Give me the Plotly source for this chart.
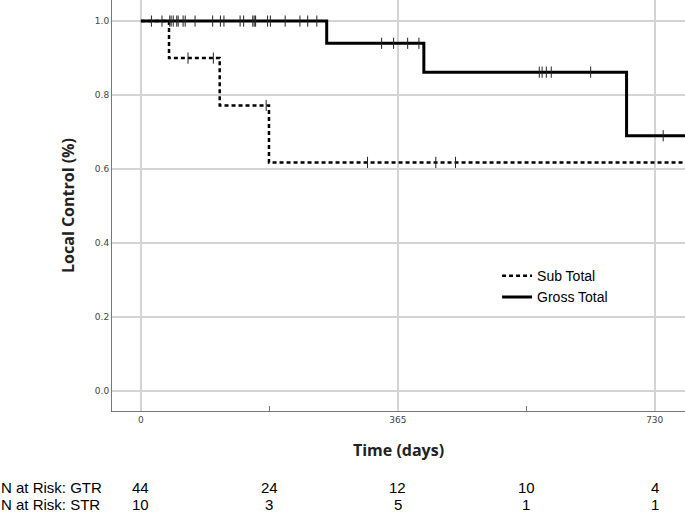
import plotly.graph_objects as go

# Kaplan-Meier step data (days, local control)
gtr_times = [0, 264, 402, 690, 780]
gtr_surv = [1.0, 0.94, 0.862, 0.69, 0.69]
str_times = [0, 40, 112, 182, 780]
str_surv = [1.0, 0.9, 0.772, 0.618, 0.618]

# censored observations
gtr_cens_t = [15, 30, 41, 43, 46, 51, 53, 60, 63, 77, 102, 113, 118, 141, 146, 159, 161, 163,
              180, 184, 205, 226, 237, 250, 342, 359, 379, 395, 566, 570, 576, 583, 639, 742]
gtr_cens_s = [1.0] * 24 + [0.94] * 4 + [0.862] * 5 + [0.69]
str_cens_t = [67, 103, 178, 322, 419, 447]
str_cens_s = [0.9, 0.9, 0.772, 0.618, 0.618, 0.618]

# numbers at risk
risk_times = [0, 182.5, 365, 547.5, 730]
risk_gtr = [44, 24, 12, 10, 4]
risk_str = [10, 3, 5, 1, 1]

x_ticks = [0, 365, 730]
y_ticks = [0.0, 0.2, 0.4, 0.6, 0.8, 1.0]

fig = go.Figure()
fig.add_trace(go.Scatter(x=str_times, y=str_surv, mode="lines", line_shape="hv",
                         line=dict(color="black", width=2.5, dash="4px,3px"), name="Sub Total"))
fig.add_trace(go.Scatter(x=gtr_times, y=gtr_surv, mode="lines", line_shape="hv",
                         line=dict(color="black", width=3), name="Gross Total"))
fig.add_trace(go.Scatter(x=str_cens_t, y=str_cens_s, mode="markers", showlegend=False,
                         marker=dict(symbol="line-ns", size=8, line=dict(color="#222", width=1))))
fig.add_trace(go.Scatter(x=gtr_cens_t, y=gtr_cens_s, mode="markers", showlegend=False,
                         marker=dict(symbol="line-ns", size=8, line=dict(color="#222", width=1))))

risk_font = dict(family="Liberation Sans", size=15, color="black")
for i, t in enumerate(risk_times):
    fig.add_annotation(x=t, y=0, xref="x", yref="paper", yshift=-87, text=str(risk_gtr[i]),
                       showarrow=False, font=risk_font)
    fig.add_annotation(x=t, y=0, xref="x", yref="paper", yshift=-104, text=str(risk_str[i]),
                       showarrow=False, font=risk_font)
fig.add_annotation(x=0, y=0, xref="paper", yref="paper", xshift=-113, yshift=-87, xanchor="left",
                   text="N at Risk: GTR", showarrow=False, font=risk_font)
fig.add_annotation(x=0, y=0, xref="paper", yref="paper", xshift=-113, yshift=-104, xanchor="left",
                   text="N at Risk: STR", showarrow=False, font=risk_font)

title_font = dict(family="Open Sans", size=16, color="#222")
tick_font = dict(family="DejaVu Sans", size=9, color="#444")

fig.update_layout(
    width=685, height=512,
    margin=dict(l=112, r=0, t=0, b=101),
    paper_bgcolor="white", plot_bgcolor="white",
    showlegend=True,
    legend=dict(x=0.672, y=0.367, xanchor="left", yanchor="top", bgcolor="rgba(0,0,0,0)",
                font=dict(family="Liberation Sans", size=14, color="black"),
                itemwidth=30, tracegroupgap=0),
    xaxis=dict(range=[-41, 773], tickvals=x_ticks, ticktext=[str(v) for v in x_ticks],
               automargin=False,
               showgrid=True, gridcolor="#d4d4d4", gridwidth=1.5, zeroline=False,
               showline=True, linecolor="#777", linewidth=1, ticks="",
               tickfont=tick_font,
               minor=dict(tickvals=[182.5, 547.5], ticks="inside", ticklen=5, tickcolor="#777", showgrid=False),
               title=dict(text="<b>Time (days)</b>", standoff=21, font=title_font)),
    yaxis=dict(range=[-0.054, 1.057], tickvals=y_ticks, ticktext=["%.1f" % v for v in y_ticks],
               automargin=False,
               showgrid=True, gridcolor="#d4d4d4", gridwidth=1.5, zeroline=False,
               showline=True, linecolor="#777", linewidth=1, ticks="",
               tickfont=tick_font,
               title=dict(text="<b>Local Control (%)</b>", standoff=16, font=title_font)),
)

fig.write_html("out.html", config={"displayModeBar": False},
               post_script="document.body.style.margin='0px';")
